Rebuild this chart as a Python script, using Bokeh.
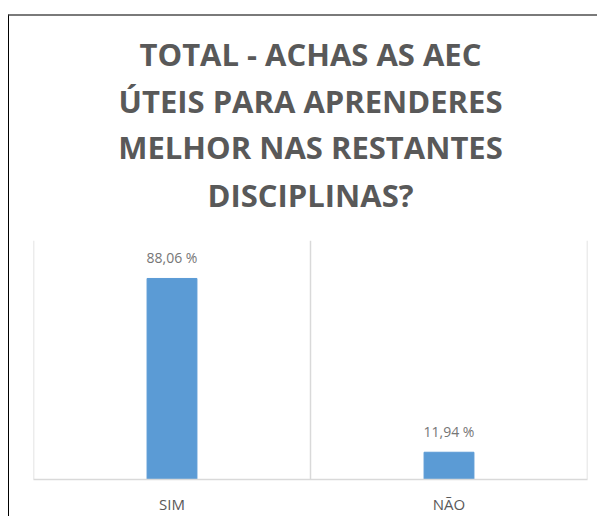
from bokeh.plotting import figure
from bokeh.models import FactorRange, Range1d, Span, Title, ColumnDataSource
from bokeh.embed import file_html
from bokeh.resources import INLINE
from bokeh.core.properties import value

# ---- data ----
categories = ["SIM", "NÃO"]
percentages = [88.06, 11.94]
title_lines = ["TOTAL - ACHAS AS AEC", "ÚTEIS PARA APRENDERES", "MELHOR NAS RESTANTES", "DISCIPLINAS?"]

labels = [f"{v:.2f}".replace(".", ",") + " %" for v in percentages]
src = ColumnDataSource(dict(cat=categories, val=percentages, lab=labels))

p = figure(
    x_range=FactorRange(*categories, range_padding=0),
    y_range=Range1d(0, 104.7),
    width=589, height=502,
    output_backend="svg", toolbar_location=None,
    y_axis_location=None, title=None,
    min_border_left=24, min_border_right=11, min_border_top=224, min_border_bottom=39,
    background_fill_color="white", border_fill_color="white",
    outline_line_color=None,
)
p.styles = {"border-left": "1px solid #000000", "border-top": "2px solid #7a7a7a",
            "margin-top": "14px", "margin-left": "8px", "margin-bottom": "-8px"}

# spacer between the title block and the plot area (first added sits closest to the plot)
p.add_layout(Title(text=" ", text_font="Open Sans", text_font_size="14px", standoff=0), "above")
title_standoffs = [4, 3, 0, 8]
for line, so in reversed(list(zip(title_lines, title_standoffs))):
    p.add_layout(Title(text=line, align="center", text_font="Open Sans",
                       text_font_size="31px", text_font_style="bold", text_color="#595959",
                       standoff=so), "above")

p.xgrid.visible = False
p.ygrid.visible = False
for i in range(len(categories) + 1):
    p.add_layout(Span(location=i, dimension="height", line_color="#d9d9d9", line_width=1.5))

p.vbar(x="cat", top="val", width=0.18, source=src, fill_color="#5b9bd5", line_color="#5b9bd5")
p.text(x="cat", y="val", text="lab", source=src, text_align="center", text_baseline="bottom",
       y_offset=-11, text_font=value("Open Sans"), text_font_size="14px", text_color="#767676")

ax = p.xaxis[0]
ax.axis_line_color = "#d9d9d9"
ax.axis_line_width = 1.5
ax.major_tick_line_color = None
ax.minor_tick_line_color = None
ax.major_label_text_font = "Open Sans"
ax.major_label_text_font_size = "15px"
ax.major_label_text_color = "#595959"
ax.major_label_standoff = 8

open("out.html", "w").write(file_html(p, INLINE))
